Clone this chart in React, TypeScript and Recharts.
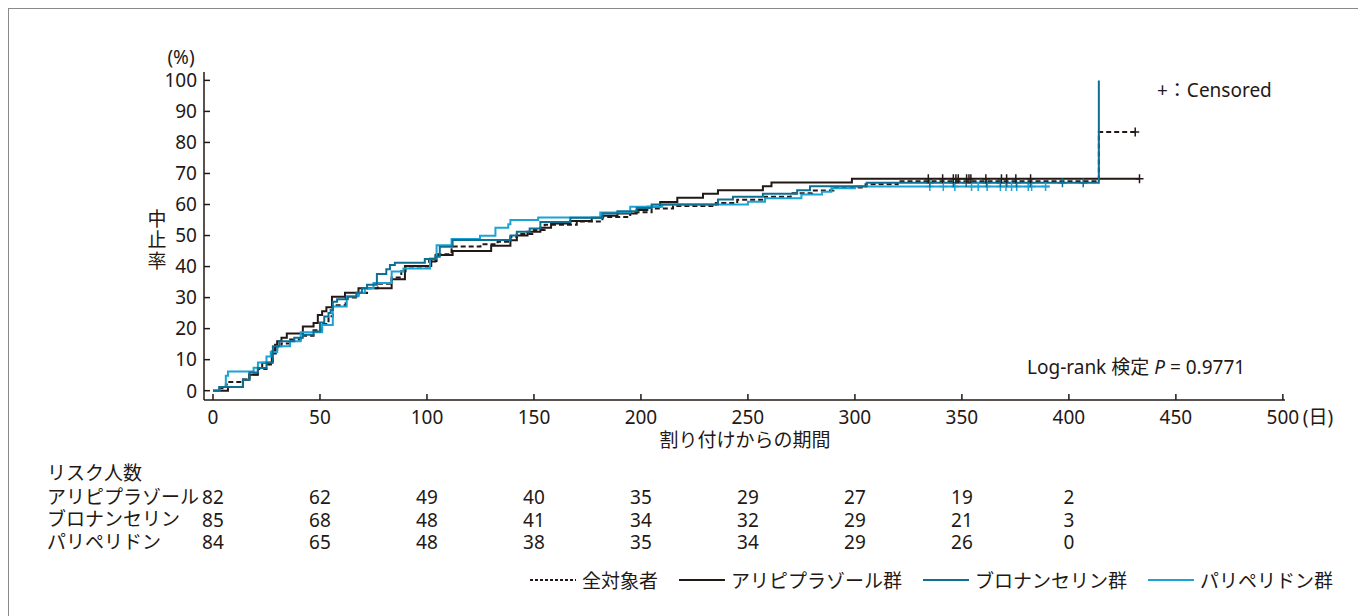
import React from 'react';
import { ComposedChart, Line, Scatter, XAxis, YAxis } from 'recharts';

const FONT = '"Noto Sans", "Noto Sans CJK JP", sans-serif';
const INK = '#231815';
const BLUE = '#0f6f92';
const CYAN = '#1ba3d5';

const xTicks = [0, 50, 100, 150, 200, 250, 300, 350, 400, 450, 500];
const yTicks = [0, 10, 20, 30, 40, 50, 60, 70, 80, 90, 100];

// number at risk, read at 0, 50, ... 400 days
const riskTimes = [0, 50, 100, 150, 200, 250, 300, 350, 400];
const riskAri = [82, 62, 49, 40, 35, 29, 27, 19, 2];
const riskBlo = [85, 68, 48, 41, 34, 32, 29, 21, 3];
const riskPal = [84, 65, 48, 38, 35, 34, 29, 26, 0];
const riskNames = ['アリピプラゾール', 'ブロナンセリン', 'パリペリドン'];

// [days, %] step points
const allSteps = [
  [0, 0], [3, 0.8], [6, 2], [7, 2.8], [14, 3.6], [17, 5.2], [21, 7], [25, 8.4], [28, 12], [30, 14],
  [32, 15.2], [36, 16.5], [41, 17.7], [47, 19.5], [51, 21.5], [54, 24], [56, 27.5], [62, 30], [68, 31.5],
  [72, 33], [77, 34.5], [83.5, 36.5], [88, 38.5], [90, 40], [101, 41.8], [104.5, 44], [111.5, 46.5],
  [125, 47.2], [133, 48], [139, 49.5], [142, 50.5], [150, 51.8], [155, 53.5], [170, 54.5], [182, 56],
  [195, 57.5], [205, 58.7], [215, 59.5], [235, 60.5], [245, 61.5], [258, 62.5], [270, 63.6], [280, 64.5],
  [290, 65.5], [305, 66.5], [320, 67.5], [414, 67.5], [414, 83.4], [431, 83.4],
];
const ariSteps = [
  [0, 0], [7, 1.2], [14, 3.5], [17, 5.1], [21, 7.3], [23, 9], [27.5, 12.6], [29, 14.8], [30, 15.9],
  [32, 17.1], [34.5, 18.4], [42, 20.7], [47, 21.8], [49, 24.4], [51, 25.6], [53, 26.9], [55.6, 30.3],
  [61.7, 31.6], [68, 33], [83.5, 35.9], [89.7, 40.2], [102, 41.6], [104, 43.7], [112, 45], [130, 46.7],
  [139, 48.5], [142, 50], [147, 51.2], [153, 52.5], [158, 53.9], [167, 54.7], [177, 55.7], [182, 56.4],
  [189, 57.1], [198, 58.2], [203, 59.3], [209, 60.8], [217, 62.2], [229, 63.5], [236, 64.6], [257, 65.9],
  [261, 67.1], [298.6, 68.3], [433, 68.3],
];
const bloSteps = [
  [0, 0], [3, 1.2], [14, 3.5], [17, 5.9], [21, 7.3], [25, 9.1], [28, 14.3], [31, 15.9], [38, 17.1],
  [42, 18], [47, 19.1], [50, 22], [52, 23.9], [54, 25], [55, 26], [56, 28.7], [58, 29.5], [63, 30.3],
  [67, 31.6], [69.6, 33], [72, 34.1], [76.6, 37.6], [81, 39.1], [82.7, 40.5], [85, 41.2], [99, 42.4],
  [104, 43.2], [106, 46.4], [112, 48.6], [139, 50], [142, 51.2], [148, 52.3], [153, 54.4], [167, 55.7],
  [182, 57.1], [189, 57.8], [198, 58.9], [205, 60], [236, 61.6], [243, 62.5], [257, 63.5], [273, 64.6],
  [279, 65.9], [305.5, 67], [414, 100],
];
const palSteps = [
  [0, 0], [3, 1.2], [6, 4.8], [7, 6.2], [19, 7.4], [21, 9.1], [25, 11], [27, 12.5], [30, 14.3],
  [36, 15.9], [41, 18.8], [51, 21.2], [56, 27.1], [62.5, 30.4], [68, 31.6], [71, 33], [75, 34.7],
  [83.5, 38.4], [89, 39.4], [101.4, 42.6], [104.5, 46.9], [111.5, 48.9], [124.8, 49.9], [132, 52.5],
  [138, 53.6], [139, 55], [152, 55.8], [181, 57.4], [195, 59.3], [210, 60], [250, 60.9], [258, 62],
  [275, 63.2], [284.6, 64.1], [289, 65.2], [300, 65.8], [391, 65.8],
];

// censored observations [days, %]
const allCens = [[431, 83.4]];
const ariCens = [
  [334.3, 68.3], [341, 68.3], [346, 68.3], [347.2, 68.3], [348.3, 68.3], [352.2, 68.3], [353.3, 68.3],
  [354.2, 68.3], [361.2, 68.3], [368.5, 68.3], [370.9, 68.3], [375.2, 68.3], [382.1, 68.3], [433, 68.3],
];
const bloCens = [
  [335, 67], [346, 67], [352, 67], [361.5, 67], [368, 67], [371, 67], [375.5, 67], [382, 67], [397, 67], [406.7, 67],
];
const palCens = [
  [335, 65.8], [341.3, 65.8], [346.7, 65.8], [354.5, 65.8], [357.6, 65.8], [361.8, 65.8], [368, 65.8],
  [370.6, 65.8], [373.2, 65.8], [375.6, 65.8], [381, 65.8], [382.6, 65.8], [389.1, 65.8],
];

const toPts = (arr: number[][]) => arr.map(([t, v]) => ({ t, v }));

const legendItems = [
  { name: '全対象者', color: INK, dash: '3 2' },
  { name: 'アリピプラゾール群', color: INK, dash: undefined },
  { name: 'ブロナンセリン群', color: BLUE, dash: undefined },
  { name: 'パリペリドン群', color: CYAN, dash: undefined },
];

const txt = { fontFamily: FONT, fontSize: 19, fill: INK };

function XTick(props: any) {
  const { x, y, payload } = props;
  const i = riskTimes.indexOf(payload.value);
  const rows = [riskAri, riskBlo, riskPal];
  return (
    <g>
      <line x1={x} x2={x} y1={y} y2={y - 6} stroke={INK} strokeWidth={1.5} />
      <text x={x} y={y + 24} textAnchor="middle" {...txt}>{payload.value}</text>
      {payload.value === 500 && (
        <text x={x + 20} y={y + 24} {...txt}>(日)</text>
      )}
      {i >= 0 &&
        rows.map((r, k) => (
          <text key={k} x={x} y={y + 104 + k * 22.5} textAnchor="middle" {...txt}>{r[i]}</text>
        ))}
    </g>
  );
}

function YTick(props: any) {
  const { x, y, payload } = props;
  return (
    <g>
      <line x1={x} x2={x + 6} y1={y} y2={y} stroke={INK} strokeWidth={1.5} />
      <text x={x - 7} y={y} dy="0.36em" textAnchor="end" {...txt}>{payload.value}</text>
    </g>
  );
}

const plus = (color: string) => (p: any) => (
  <path
    d={`M${p.cx - 4},${p.cy}H${p.cx + 4}M${p.cx},${p.cy - 4.5}V${p.cy + 4.5}`}
    stroke={color}
    strokeWidth={1.5}
    fill="none"
  />
);

function LegendBox() {
  return (
    <div
      style={{
        position: 'absolute', left: 530, top: 566, display: 'flex', alignItems: 'center',
        fontFamily: FONT, fontSize: 19, color: INK, whiteSpace: 'nowrap',
      }}
    >
      {legendItems.map((it) => (
        <div key={it.name} style={{ display: 'flex', alignItems: 'center', marginRight: 21 }}>
          <svg width={46} height={10} style={{ marginRight: 6 }}>
            <line x1={0} x2={46} y1={5} y2={5} stroke={it.color} strokeWidth={2} strokeDasharray={it.dash} />
          </svg>
          <span>{it.name}</span>
        </div>
      ))}
    </div>
  );
}

export default function App() {
  return (
    <div style={{ position: 'fixed', left: 0, top: 0, width: 1358, height: 616, overflow: 'hidden', background: '#fff' }}>
      <div style={{ position: 'absolute', left: 8, top: 8, width: 1400, height: 700, border: '1px solid #8a8a8a' }} />
      <div style={{ position: 'absolute', left: 0, top: 0 }}>
        <ComposedChart width={1358} height={616} margin={{ left: 203, right: 73, top: 72, bottom: 215 }}>
          <XAxis
            type="number"
            dataKey="t"
            domain={[-4.2, 501]}
            ticks={xTicks}
            interval={0}
            height={1}
            tickSize={0}
            tickMargin={0}
            tickLine={false}
            axisLine={{ stroke: INK, strokeWidth: 1.5 }}
            tick={<XTick />}
            allowDataOverflow
          />
          <YAxis
            type="number"
            dataKey="v"
            domain={[-3, 102.7]}
            ticks={yTicks}
            interval={0}
            width={1}
            tickSize={0}
            tickMargin={0}
            tickLine={false}
            axisLine={{ stroke: INK, strokeWidth: 1.5 }}
            tick={<YTick />}
            allowDataOverflow
          />
          <Line data={toPts(ariSteps)} dataKey="v" type="stepAfter" stroke={INK} strokeWidth={2} dot={false} isAnimationActive={false} />
          <Line data={toPts(allSteps)} dataKey="v" type="stepAfter" stroke={INK} strokeWidth={2} strokeDasharray="5 3" dot={false} isAnimationActive={false} />
          <Line data={toPts(palSteps)} dataKey="v" type="stepAfter" stroke={CYAN} strokeWidth={2} dot={false} isAnimationActive={false} />
          <Line data={toPts(bloSteps)} dataKey="v" type="stepAfter" stroke={BLUE} strokeWidth={2} dot={false} isAnimationActive={false} />
          <Scatter data={toPts(palCens)} dataKey="v" shape={plus(CYAN)} isAnimationActive={false} />
          <Scatter data={toPts(bloCens)} dataKey="v" shape={plus(BLUE)} isAnimationActive={false} />
          <Scatter data={toPts(ariCens)} dataKey="v" shape={plus(INK)} isAnimationActive={false} />
          <Scatter data={toPts(allCens)} dataKey="v" shape={plus(INK)} isAnimationActive={false} />
        </ComposedChart>
      </div>
      <LegendBox />
      <svg width={1358} height={616} style={{ position: 'absolute', left: 0, top: 0, pointerEvents: 'none' }}>
        <text x={181} y={57} dy="0.36em" textAnchor="middle" {...txt}>(%)</text>
        {['中', '止', '率'].map((c, k) => (
          <text key={c} x={157} y={219 + k * 21} dy="0.36em" textAnchor="middle" {...txt}>{c}</text>
        ))}
        <text x={745} y={440} dy="0.36em" textAnchor="middle" {...txt}>割り付けからの期間</text>
        <text x={1157} y={90} dy="0.36em" {...txt}>+：Censored</text>
        <text x={1027} y={367} dy="0.36em" {...txt}>
          Log-rank 検定 <tspan fontStyle="italic">P</tspan> = 0.9771
        </text>
        <text x={47} y={473} dy="0.36em" {...txt}>リスク人数</text>
        {riskNames.map((n, k) => (
          <text key={n} x={47} y={497 + k * 22.5} dy="0.36em" {...txt}>{n}</text>
        ))}
      </svg>
    </div>
  );
}
